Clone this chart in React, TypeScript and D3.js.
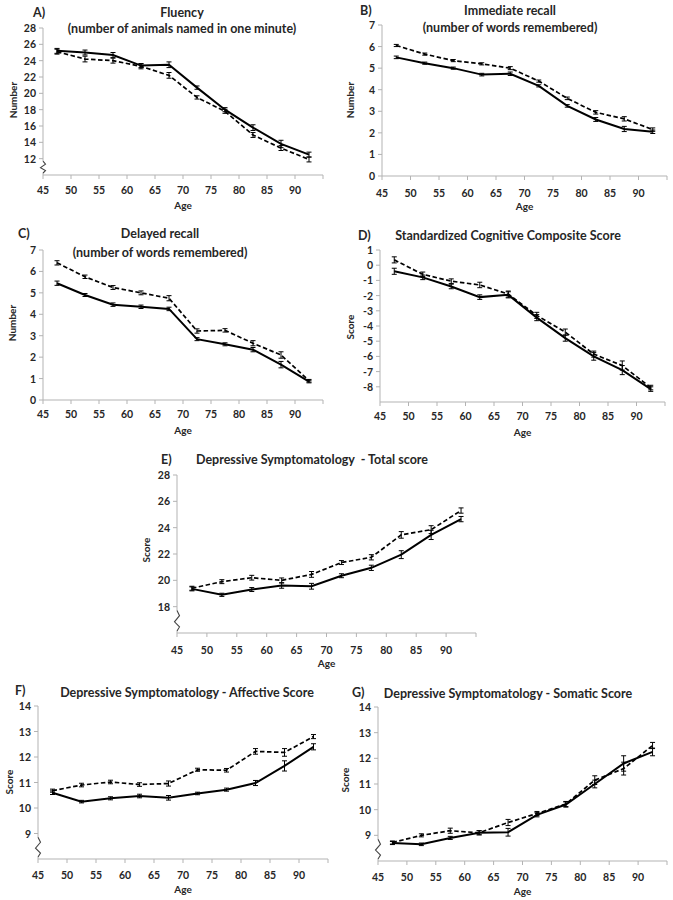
import React from "react";
import * as d3 from "d3";

// ---------- data ----------
const AGES = [47.5, 52.5, 57.5, 62.5, 67.5, 72.5, 77.5, 82.5, 87.5, 92.5];
const X_TICK_LABELS = [45, 50, 55, 60, 65, 70, 75, 80, 85, 90];

// A) Fluency
const fluencySolid = [25.2, 25.0, 24.7, 23.4, 23.5, 20.7, 18.0, 15.8, 13.8, 12.5];
const fluencySolidErr = [0.3, 0.3, 0.3, 0.25, 0.35, 0.2, 0.25, 0.35, 0.45, 0.3];
const fluencyDashed = [25.1, 24.2, 24.0, 23.3, 22.2, 19.5, 17.8, 14.9, 13.3, 11.9];
const fluencyDashedErr = [0.3, 0.35, 0.3, 0.3, 0.35, 0.2, 0.25, 0.3, 0.3, 0.3];
const fluencyTicks = [12, 14, 16, 18, 20, 22, 24, 26, 28];

// B) Immediate recall
const immediateSolid = [5.5, 5.23, 5.0, 4.7, 4.74, 4.18, 3.25, 2.62, 2.18, 2.05];
const immediateSolidErr = [0.06, 0.05, 0.05, 0.06, 0.08, 0.05, 0.06, 0.09, 0.12, 0.08];
const immediateDashed = [6.05, 5.65, 5.35, 5.2, 5.0, 4.4, 3.6, 2.95, 2.65, 2.15];
const immediateDashedErr = [0.05, 0.05, 0.05, 0.05, 0.07, 0.05, 0.06, 0.08, 0.1, 0.08];
const immediateTicks = [0, 1, 2, 3, 4, 5, 6, 7];

// C) Delayed recall
const delayedSolid = [5.45, 4.9, 4.45, 4.35, 4.25, 2.84, 2.6, 2.35, 1.65, 0.86];
const delayedSolidErr = [0.1, 0.07, 0.08, 0.08, 0.08, 0.07, 0.07, 0.1, 0.15, 0.06];
const delayedDashed = [6.4, 5.75, 5.25, 5.0, 4.75, 3.22, 3.25, 2.65, 2.1, 0.9];
const delayedDashedErr = [0.1, 0.08, 0.09, 0.09, 0.12, 0.1, 0.08, 0.12, 0.15, 0.06];
const delayedTicks = [0, 1, 2, 3, 4, 5, 6, 7];

// D) Standardized Cognitive Composite Score
const compositeSolid = [-0.4, -0.8, -1.4, -2.1, -1.95, -3.45, -4.8, -6.0, -6.9, -8.15];
const compositeSolidErr = [0.2, 0.15, 0.15, 0.15, 0.2, 0.2, 0.2, 0.25, 0.3, 0.15];
const compositeDashed = [0.35, -0.6, -1.05, -1.3, -1.9, -3.3, -4.4, -5.85, -6.6, -8.05];
const compositeDashedErr = [0.2, 0.15, 0.15, 0.18, 0.2, 0.2, 0.2, 0.2, 0.3, 0.15];
const compositeTicks = [-8, -7, -6, -5, -4, -3, -2, -1, 0, 1];

// E) Depressive Symptomatology - Total
const totalSolid = [19.35, 18.9, 19.3, 19.6, 19.55, 20.35, 20.95, 21.95, 23.45, 24.65];
const totalSolidErr = [0.15, 0.12, 0.15, 0.2, 0.22, 0.15, 0.2, 0.3, 0.35, 0.2];
const totalDashed = [19.4, 19.9, 20.2, 20.0, 20.45, 21.35, 21.75, 23.45, 23.85, 25.3];
const totalDashedErr = [0.15, 0.15, 0.18, 0.18, 0.22, 0.15, 0.2, 0.25, 0.3, 0.2];
const totalTicks = [18, 20, 22, 24, 26, 28];

// F) Affective
const affectiveSolid = [10.6, 10.25, 10.38, 10.47, 10.4, 10.57, 10.72, 10.98, 11.65, 12.4];
const affectiveSolidErr = [0.07, 0.05, 0.06, 0.07, 0.09, 0.05, 0.06, 0.1, 0.2, 0.12];
const affectiveDashed = [10.68, 10.9, 11.02, 10.92, 10.96, 11.5, 11.48, 12.22, 12.18, 12.8];
const affectiveDashedErr = [0.06, 0.07, 0.07, 0.07, 0.1, 0.06, 0.07, 0.11, 0.15, 0.08];
const affectiveTicks = [9, 10, 11, 12, 13, 14];

// G) Somatic
const somaticSolid = [8.7, 8.65, 8.9, 9.1, 9.12, 9.8, 10.2, 11.0, 11.8, 12.25];
const somaticSolidErr = [0.06, 0.05, 0.06, 0.08, 0.15, 0.08, 0.1, 0.15, 0.3, 0.15];
const somaticDashed = [8.72, 9.0, 9.18, 9.1, 9.5, 9.85, 10.22, 11.15, 11.6, 12.5];
const somaticDashedErr = [0.06, 0.06, 0.1, 0.08, 0.12, 0.08, 0.1, 0.17, 0.25, 0.12];
const somaticTicks = [9, 10, 11, 12, 13, 14];

// ---------- layout ----------
type Panel = {
  letter: string;
  letterX: number;
  letterY: number;
  title: string[];
  titleX: number;
  titleY: number[];
  yLabel: string;
  yLabelX: number;
  yLabelY: number;
  x0: number;
  x1: number;
  yBottom: number;
  yTop: number;
  yDomain: [number, number];
  ticks: number[];
  brk: boolean;
  solid: number[];
  solidErr: number[];
  dashed: number[];
  dashedErr: number[];
  xLabOff: number;
};

const panels: Panel[] = [
  {
    letter: "A)", letterX: 33, letterY: 12,
    title: ["Fluency", "(number of animals named in one minute)"], titleX: 182, titleY: [12, 28],
    yLabel: "Number", yLabelX: 13, yLabelY: 100,
    x0: 43, x1: 323, yBottom: 175, yTop: 28, yDomain: [10, 28], ticks: fluencyTicks, brk: true,
    solid: fluencySolid, solidErr: fluencySolidErr, dashed: fluencyDashed, dashedErr: fluencyDashedErr,
    xLabOff: 14.5,
  },
  {
    letter: "B)", letterX: 360, letterY: 10,
    title: ["Immediate recall", "(number of words remembered)"], titleX: 510, titleY: [10, 27],
    yLabel: "Number", yLabelX: 350, yLabelY: 100,
    x0: 382, x1: 667, yBottom: 176, yTop: 25, yDomain: [0, 7], ticks: immediateTicks, brk: false,
    solid: immediateSolid, solidErr: immediateSolidErr, dashed: immediateDashed, dashedErr: immediateDashedErr,
    xLabOff: 16.5,
  },
  {
    letter: "C)", letterX: 18, letterY: 233,
    title: ["Delayed recall", "(number of words remembered)"], titleX: 160, titleY: [233, 252],
    yLabel: "Number", yLabelX: 12, yLabelY: 323,
    x0: 43, x1: 323, yBottom: 400, yTop: 250, yDomain: [0, 7], ticks: delayedTicks, brk: false,
    solid: delayedSolid, solidErr: delayedSolidErr, dashed: delayedDashed, dashedErr: delayedDashedErr,
    xLabOff: 14,
  },
  {
    letter: "D)", letterX: 358, letterY: 235,
    title: ["Standardized Cognitive Composite Score"], titleX: 508, titleY: [235],
    yLabel: "Score", yLabelX: 350, yLabelY: 327,
    x0: 380, x1: 665, yBottom: 402, yTop: 250, yDomain: [-9, 1], ticks: compositeTicks, brk: false,
    solid: compositeSolid, solidErr: compositeSolidErr, dashed: compositeDashed, dashedErr: compositeDashedErr,
    xLabOff: 14,
  },
  {
    letter: "E)", letterX: 161, letterY: 459,
    title: ["Depressive Symptomatology  - Total score"], titleX: 312, titleY: [459],
    yLabel: "Score", yLabelX: 146, yLabelY: 550,
    x0: 177, x1: 476, yBottom: 633, yTop: 475, yDomain: [16, 28], ticks: totalTicks, brk: true,
    solid: totalSolid, solidErr: totalSolidErr, dashed: totalDashed, dashedErr: totalDashedErr,
    xLabOff: 17,
  },
  {
    letter: "F)", letterX: 15, letterY: 690,
    title: ["Depressive Symptomatology - Affective Score"], titleX: 187, titleY: [692],
    yLabel: "Score", yLabelX: 9, yLabelY: 782,
    x0: 38, x1: 328, yBottom: 859, yTop: 706, yDomain: [8, 14], ticks: affectiveTicks, brk: true,
    solid: affectiveSolid, solidErr: affectiveSolidErr, dashed: affectiveDashed, dashedErr: affectiveDashedErr,
    xLabOff: 16,
  },
  {
    letter: "G)", letterX: 352, letterY: 692,
    title: ["Depressive Symptomatology - Somatic Score"], titleX: 508, titleY: [693],
    yLabel: "Score", yLabelX: 345, yLabelY: 780,
    x0: 378, x1: 667, yBottom: 861, yTop: 707, yDomain: [8, 14], ticks: somaticTicks, brk: true,
    solid: somaticSolid, solidErr: somaticSolidErr, dashed: somaticDashed, dashedErr: somaticDashedErr,
    xLabOff: 16,
  },
];

const FONT = "Lato, 'Open Sans', sans-serif";
const AXIS = "#b3b3b3";
const TXT = "#262626";

function Series({ vals, errs, x, y, dashed }: any) {
  const line = d3
    .line<number>()
    .x((_, i) => x(AGES[i]))
    .y((d) => y(d));
  return (
    <g>
      <path
        d={line(vals) || ""}
        fill="none"
        stroke="#000"
        strokeWidth={dashed ? 1.7 : 2}
        strokeDasharray={dashed ? "4.5,2.5" : undefined}
      />
      {vals.map((v: number, i: number) => {
        const cx = x(AGES[i]);
        const yt = y(v + errs[i]);
        const yb = y(v - errs[i]);
        return (
          <g key={i} stroke="#000" strokeWidth={1}>
            <line x1={cx} x2={cx} y1={yt} y2={yb} />
            <line x1={cx - 2.5} x2={cx + 2.5} y1={yt} y2={yt} />
            <line x1={cx - 2.5} x2={cx + 2.5} y1={yb} y2={yb} />
          </g>
        );
      })}
    </g>
  );
}

function PanelView({ p }: { p: Panel }) {
  const x = d3.scaleLinear().domain([45, 95]).range([p.x0, p.x1]);
  const y = d3.scaleLinear().domain(p.yDomain).range([p.yBottom, p.yTop]);
  const xTicks = d3.range(45, 96, 5);
  const lowest = y(p.ticks[0]);
  const bTop = lowest + (p.yBottom - lowest) * 0.15;
  const bBot = p.yBottom - 2;
  const bh = bBot - bTop;
  const zig = `M${p.x0},${bTop} L${p.x0 + 2.5},${bTop + bh * 0.25} L${p.x0 - 2.5},${bTop + bh * 0.55} L${p.x0 + 2.5},${bTop + bh * 0.8} L${p.x0},${bBot}`;
  return (
    <g>
      {/* axes */}
      <line x1={p.x0} x2={p.x1} y1={p.yBottom} y2={p.yBottom} stroke={AXIS} strokeWidth={1} />
      <line x1={p.x0} x2={p.x0} y1={p.yBottom} y2={p.yTop} stroke={AXIS} strokeWidth={1} />
      {xTicks.map((t) => (
        <line key={t} x1={x(t)} x2={x(t)} y1={p.yBottom} y2={p.yBottom + 4} stroke={AXIS} strokeWidth={1} />
      ))}
      {p.ticks.map((t) => (
        <line key={t} x1={p.x0 - 4} x2={p.x0} y1={y(t)} y2={y(t)} stroke={AXIS} strokeWidth={1} />
      ))}
      {p.brk && (
        <g>
          <line x1={p.x0} x2={p.x0} y1={bTop} y2={bBot} stroke="#fff" strokeWidth={3} />
          <path d={zig} fill="none" stroke="#444" strokeWidth={1.1} />
        </g>
      )}
      {/* tick labels */}
      {X_TICK_LABELS.map((t) => (
        <text key={t} x={x(t)} y={p.yBottom + p.xLabOff} textAnchor="middle" dominantBaseline="central"
          fontSize={10.5} fontWeight="bold" fill={TXT} fontFamily={FONT}>
          {t}
        </text>
      ))}
      {p.ticks.map((t) => (
        <text key={t} x={p.x0 - 7} y={y(t)} textAnchor="end" dominantBaseline="central"
          fontSize={10.5} fontWeight="bold" fill={TXT} fontFamily={FONT}>
          {t}
        </text>
      ))}
      {/* axis titles */}
      <text x={(p.x0 + p.x1) / 2} y={p.yBottom + 29.5} textAnchor="middle" dominantBaseline="central"
        fontSize={10} fontWeight="bold" fill={TXT} fontFamily={FONT}>
        Age
      </text>
      <text transform={`translate(${p.yLabelX},${p.yLabelY}) rotate(-90)`} textAnchor="middle" dominantBaseline="central"
        fontSize={10} fontWeight="bold" fill={TXT} fontFamily={FONT}>
        {p.yLabel}
      </text>
      {/* titles */}
      <text x={p.letterX} y={p.letterY} dominantBaseline="central" fontSize={12.5} fontWeight="bold" fill={TXT} fontFamily={FONT}>
        {p.letter}
      </text>
      {p.title.map((t, i) => (
        <text key={i} x={p.titleX} y={p.titleY[i]} textAnchor="middle" dominantBaseline="central"
          fontSize={12.5} fontWeight="bold" fill={TXT} fontFamily={FONT} style={{ whiteSpace: "pre" }}>
          {t}
        </text>
      ))}
      {/* data */}
      <Series vals={p.dashed} errs={p.dashedErr} x={x} y={y} dashed />
      <Series vals={p.solid} errs={p.solidErr} x={x} y={y} />
    </g>
  );
}

export default function App() {
  return (
    <svg width={673} height={900} style={{ position: "absolute", left: 0, top: 0, background: "#fff" }}>
      <rect width={673} height={900} fill="#fff" />
      {panels.map((p) => (
        <PanelView key={p.letter} p={p} />
      ))}
    </svg>
  );
}
